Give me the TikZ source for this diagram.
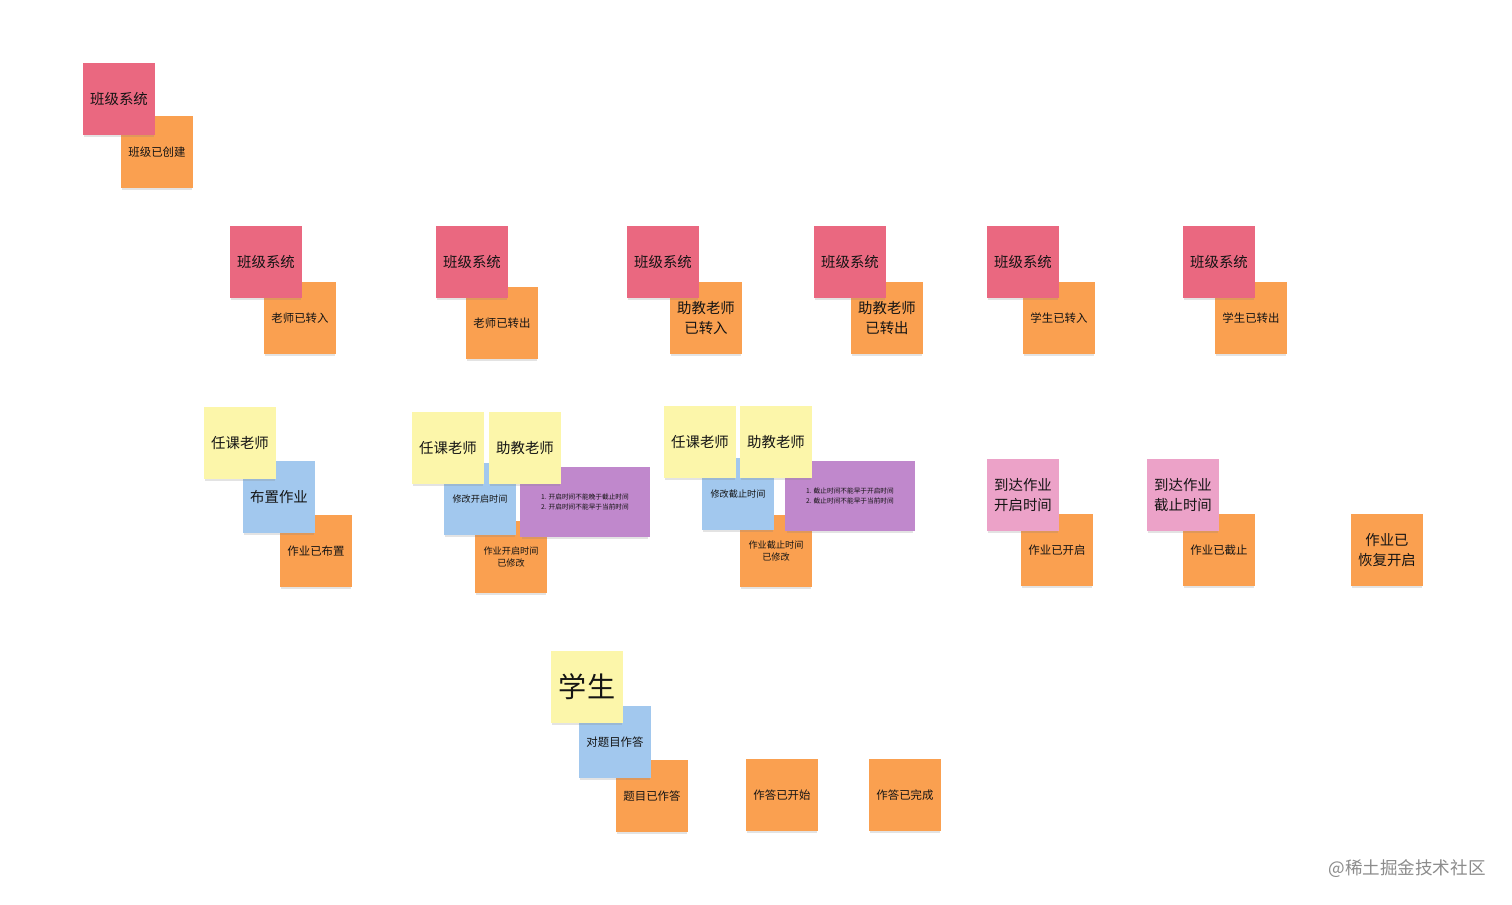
\documentclass[tikz,border=0pt]{standalone}
\usepackage{fontspec}
\newfontfamily\cjk{Noto Sans CJK SC}
\usetikzlibrary{shadows}

\definecolor{syspink}{RGB}{234,104,128}
\definecolor{evtorange}{RGB}{250,160,80}
\definecolor{actyellow}{RGB}{252,246,170}
\definecolor{cmdblue}{RGB}{162,200,238}
\definecolor{rulepurple}{RGB}{192,136,204}
\definecolor{polpink}{RGB}{236,162,200}

\begin{document}
\begin{tikzpicture}[
  x=0.02cm, y=-0.02cm,
  sticky/.style={rectangle, minimum width=1.44cm, minimum height=1.44cm, inner sep=1pt, align=center, text=black!92,
    drop shadow={shadow xshift=0pt, shadow yshift=-1.8pt, opacity=0.22, shadow scale=0.96}},
  bigtxt/.style={font=\cjk\fontsize{8.2}{11.3}\selectfont},
  smalltxt/.style={font=\cjk\fontsize{6.5}{8.5}\selectfont},
  tinytxt/.style={font=\cjk\fontsize{5.2}{6.8}\selectfont},
  system/.style={sticky, fill=syspink, bigtxt},
  event/.style={sticky, fill=evtorange, smalltxt},
  actor/.style={sticky, fill=actyellow, bigtxt},
  command/.style={sticky, fill=cmdblue, smalltxt},
  policy/.style={sticky, fill=polpink, bigtxt},
  rulenote/.style={sticky, fill=rulepurple, minimum width=2.62cm, minimum height=1.4cm, font=\cjk\fontsize{3.8}{5.6}\selectfont}
]
  \fill[white] (0,0) rectangle (1512,904);
  \useasboundingbox (0,0) rectangle (1512,904);

  %班级创建
  \node[event] (evt0) at (157,152) {班级已创建};
  \node[system] (sys0) at (119,99) {班级系统};

  % 老师和学生的转入转出
  \node[event] (evt1) at (300,318) {老师已转入};
  \node[system] (sys1) at (266,262) {班级系统};
  \node[event] (evt2) at (502,323) {老师已转出};
  \node[system] (sys2) at (472,262) {班级系统};
  \node[event, bigtxt] (evt3) at (706,318) {助教老师\\已转入};
  \node[system] (sys3) at (663,262) {班级系统};
  \node[event, bigtxt] (evt4) at (887,318) {助教老师\\已转出};
  \node[system] (sys4) at (850,262) {班级系统};
  \node[event] (evt5) at (1059,318) {学生已转入};
  \node[system] (sys5) at (1023,262) {班级系统};
  \node[event] (evt6) at (1251,318) {学生已转出};
  \node[system] (sys6) at (1219,262) {班级系统};

  % 布置作业
  \node[event] (evt7) at (316,551) {作业已布置};
  \node[command, bigtxt] (cmd1) at (279,497) {布置作业};
  \node[actor] (act1) at (240,443) {任课老师};

  % 修改开启时间
  \node[event, tinytxt] (evt8) at (511,557) {作业开启时间\\已修改};
  \node[command, tinytxt] (cmd2) at (480,499) {修改开启时间};
  \node[rulenote] (rule1) at (585,502) {1. 开启时间不能晚于截止时间\\2. 开启时间不能早于当前时间};
  \node[actor] (act2) at (448,448) {任课老师};
  \node[actor] (act3) at (525,448) {助教老师};

  % 修改截止时间
  \node[event, tinytxt] (evt9) at (776,551) {作业截止时间\\已修改};
  \node[command, tinytxt] (cmd3) at (738,494) {修改截止时间};
  \node[rulenote] (rule2) at (850,496) {1. 截止时间不能早于开启时间\\2. 截止时间不能早于当前时间};
  \node[actor] (act4) at (700,442) {任课老师};
  \node[actor] (act5) at (776,442) {助教老师};

  % 到达时间
  \node[event] (evt10) at (1057,550) {作业已开启};
  \node[policy] (pol1) at (1023,495) {到达作业\\开启时间};
  \node[event] (evt11) at (1219,550) {作业已截止};
  \node[policy] (pol2) at (1183,495) {到达作业\\截止时间};
  \node[event, bigtxt] (evt12) at (1387,550) {作业已\\恢复开启};

  % 学生作答
  \node[event] (evt13) at (652,796) {题目已作答};
  \node[command] (cmd4) at (615,742) {对题目作答};
  \node[actor, font=\cjk\fontsize{16}{18}\selectfont] (act6) at (587,687) {学生};
  \node[event] (evt14) at (782,795) {作答已开始};
  \node[event] (evt15) at (905,795) {作答已完成};

  % 水印
  \node[font=\cjk\fontsize{10}{12}\selectfont, text=black!45] (mark) at (1407,869) {@稀土掘金技术社区};
\end{tikzpicture}
\end{document}
